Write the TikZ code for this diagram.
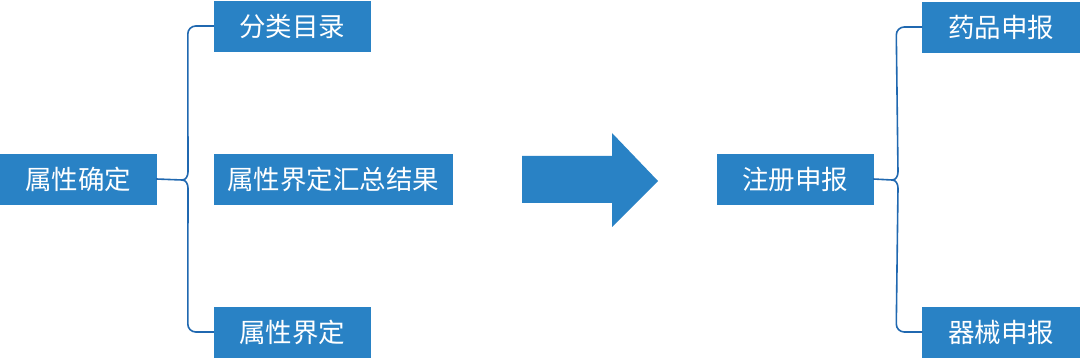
\documentclass[tikz,border=0pt]{standalone}
\usepackage{fontspec}
\newfontfamily\cjk{Noto Sans CJK SC}
\definecolor{boxblue}{RGB}{41,130,197}
\definecolor{braceblue}{RGB}{32,104,176}

\begin{document}
\begin{tikzpicture}[x=1pt,y=1pt,
		box/.style={draw=boxblue, fill=boxblue, text=white, inner sep=0pt, minimum height=50pt, font=\cjk\fontsize{26.5}{30}\selectfont},
		brace/.style={draw=braceblue, line width=1.6pt}]
	\useasboundingbox (0,0) rectangle (1080,364);
	
	\node (lroot) at (78,185) [box, minimum width=156pt] {属性确定};
	\node (b1) at (292,338) [box, minimum width=156pt] {分类目录};
	\node (b2) at (333,185) [box, minimum width=238pt] {属性界定汇总结果};
	\node (b3) at (292,32) [box, minimum width=156pt] {属性界定};
	
	\node (rroot) at (795,185) [box, minimum width=156pt] {注册申报};
	\node (r1) at (1001,337) [box, minimum width=157pt] {药品申报};
	\node (r2) at (1001,32) [box, minimum width=157pt] {器械申报};
	
	\coordinate (lc) at (182,184);
	\coordinate (rc) at (892,184);
	
	\foreach \root/\c/\up/\down in {lroot/lc/b1/b3, rroot/rc/r1/r2} {
		\draw[brace] (\root.east) -- (\c);
		\draw[brace] (\up.west) -- ++(-18,0) to[out=180,in=90] ++(-8,-8) -- ([xshift=6pt,yshift=8pt]\c) to[out=270,in=0] (\c);
		\draw[brace] (\down.west) -- ++(-18,0) to[out=180,in=270] ++(-8,8) -- ([xshift=6pt,yshift=-8pt]\c) to[out=90,in=0] (\c);
	}
	
	\fill[boxblue] (522,161) -- (612,161) -- (612,137) -- (658,183) -- (612,231) -- (612,208) -- (522,208) -- cycle;
	
\end{tikzpicture}
\end{document}
